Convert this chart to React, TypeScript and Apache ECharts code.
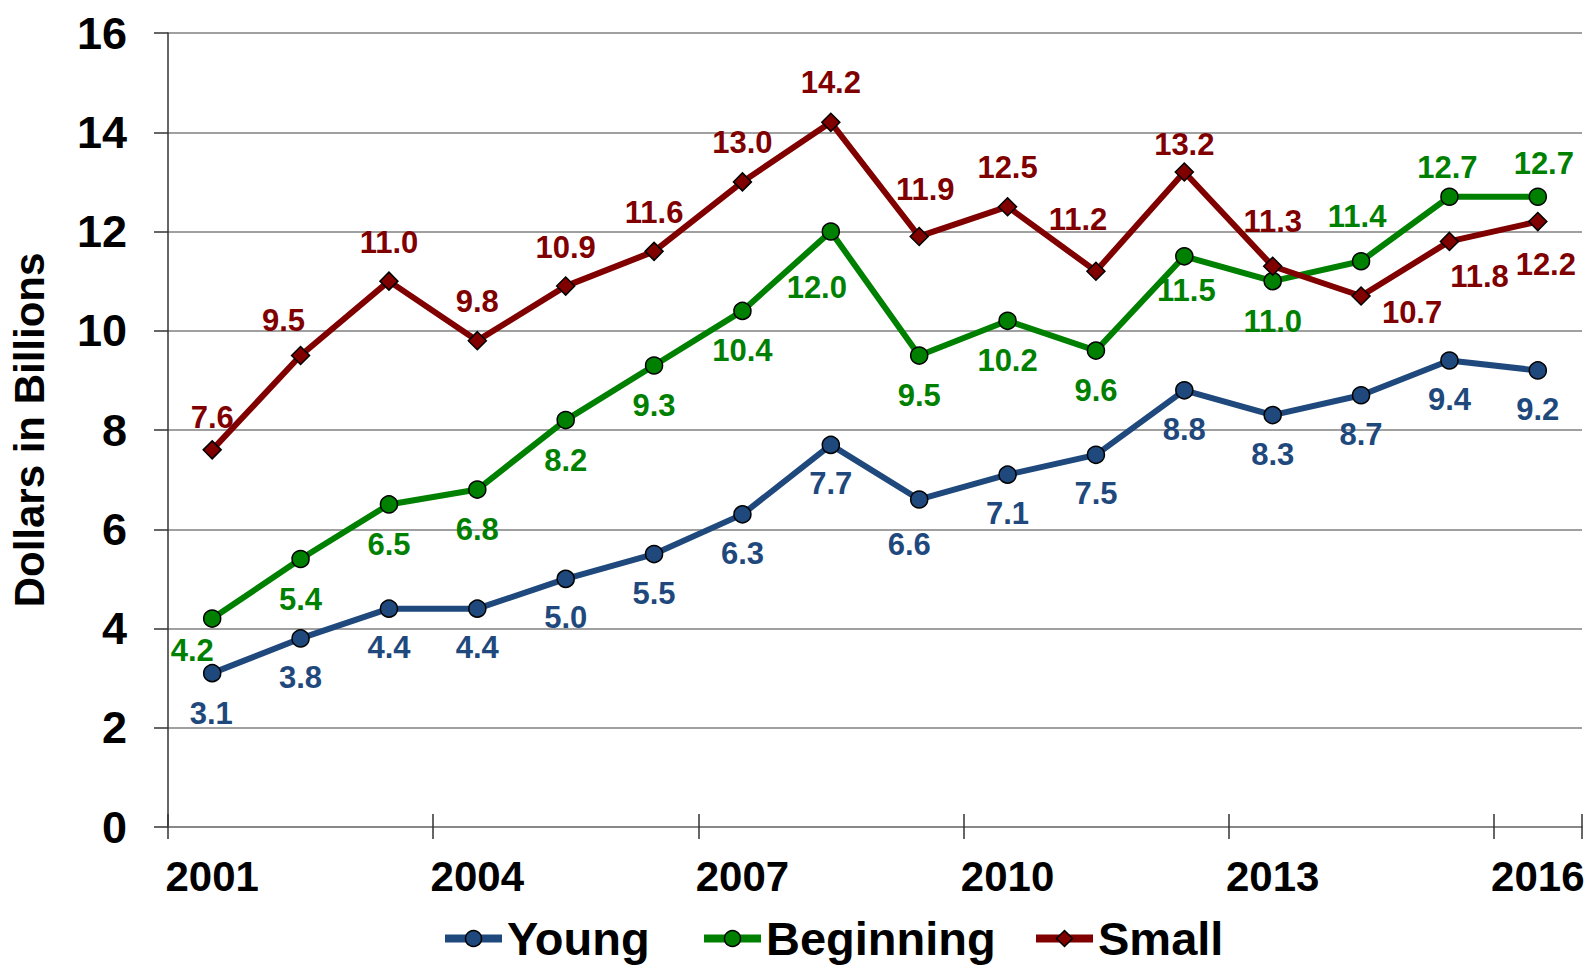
import React, { useEffect, useRef } from "react";
import * as echarts from "echarts";

const years = ["2001","2002","2003","2004","2005","2006","2007","2008","2009","2010","2011","2012","2013","2014","2015","2016"];
const young = [3.1, 3.8, 4.4, 4.4, 5.0, 5.5, 6.3, 7.7, 6.6, 7.1, 7.5, 8.8, 8.3, 8.7, 9.4, 9.2];
const beginning = [4.2, 5.4, 6.5, 6.8, 8.2, 9.3, 10.4, 12.0, 9.5, 10.2, 9.6, 11.5, 11.0, 11.4, 12.7, 12.7];
const small = [7.6, 9.5, 11.0, 9.8, 10.9, 11.6, 13.0, 14.2, 11.9, 12.5, 11.2, 13.2, 11.3, 10.7, 11.8, 12.2];
const yTicks = [0, 2, 4, 6, 8, 10, 12, 14, 16];
const seriesNames = ["Young", "Beginning", "Small"];

const COLORS = { young: "#1F497D", beginning: "#008000", small: "#800000" };
const FONT = "'Liberation Sans', Arial, sans-serif";

// label placement (pixel offsets from the marker centre)
const defaultOffset: Record<string, number[]> = { young: [0, 39], beginning: [0, 40], small: [0, -39] };
const offsetExceptions: Record<string, Record<number, number[]>> = {
  young: { 0: [-1, 40], 8: [-10, 45] },
  beginning: { 0: [-20, 32], 7: [-14, 56], 11: [2, 34], 13: [-4, -45], 14: [-2, -29], 15: [6, -33] },
  small: { 0: [0, -32], 1: [-17, -35], 7: [0, -40], 8: [6, -47], 10: [-18, -52], 11: [0, -27], 12: [0, -45], 13: [51, 16], 14: [30, 35], 15: [8, 43] },
};
// legend item left edges
const legendLefts = [436, 695, 1027];

function makeSeries(name: string, key: string, values: number[], symbol: string, symbolSize: number) {
  const color = (COLORS as any)[key];
  return {
    name,
    type: "line",
    data: values.map((v, i) => ({
      value: v,
      label: { offset: (offsetExceptions[key] && offsetExceptions[key][i]) || defaultOffset[key] },
    })),
    symbol,
    symbolSize,
    lineStyle: { color, width: 6 },
    itemStyle: { color, borderColor: "#000", borderWidth: 1.5 },
    label: {
      show: true,
      position: "inside",
      color,
      fontFamily: FONT,
      fontWeight: "bold",
      fontSize: 31,
      formatter: (p: any) => Number(p.value).toFixed(1),
    },
    emphasis: { disabled: true },
  };
}

export default function App() {
  const ref = useRef<HTMLDivElement>(null);
  useEffect(() => {
    if (!ref.current) return;
    const chart = echarts.init(ref.current, undefined, { renderer: "svg" });
    chart.setOption({
      animation: false,
      backgroundColor: "#fff",
      grid: { left: 155, right: 7, top: 33, bottom: 143, containLabel: false },
      legend: seriesNames.map((n, i) => ({
        left: legendLefts[i],
        top: 910,
        itemWidth: 57,
        itemHeight: 20,
        lineStyle: { width: 8 },
        itemStyle: { borderColor: "#000", borderWidth: 1.5 },
        textStyle: { fontFamily: FONT, fontWeight: "bold", fontSize: 47, color: "#000" },
        data: [n],
      })),
      xAxis: [
        {
          type: "category",
          data: years,
          boundaryGap: true,
          axisLine: { show: true, lineStyle: { color: "#808080", width: 1.5 } },
          axisTick: { show: true, interval: 2, length: 12, lineStyle: { color: "#333", width: 1.5 } },
          axisLabel: {
            interval: 2,
            margin: 28,
            fontFamily: FONT,
            fontWeight: "bold",
            fontSize: 42,
            color: "#000",
          },
          splitLine: { show: false },
        },
        {
          type: "category",
          data: years,
          boundaryGap: true,
          position: "bottom",
          axisLine: { show: false },
          axisTick: { show: true, inside: true, interval: 2, length: 13, lineStyle: { color: "#333", width: 1.5 } },
          axisLabel: { show: false },
          splitLine: { show: false },
        },
      ],
      yAxis: {
        type: "value",
        min: yTicks[0],
        max: yTicks[yTicks.length - 1],
        interval: 2,
        name: "Dollars in Billions",
        nameLocation: "middle",
        nameGap: 118,
        nameTextStyle: { fontFamily: FONT, fontWeight: "bold", fontSize: 42, color: "#000" },
        axisLine: { show: true, lineStyle: { color: "#333", width: 1.5 } },
        axisTick: { show: true, length: 14, lineStyle: { color: "#333", width: 1.5 } },
        axisLabel: {
          margin: 41,
          fontFamily: FONT,
          fontWeight: "bold",
          fontSize: 45,
          color: "#000",
        },
        splitLine: { show: true, lineStyle: { color: "#808080", width: 1.5 } },
      },
      series: [
        makeSeries(seriesNames[0], "young", young, "circle", 17),
        makeSeries(seriesNames[1], "beginning", beginning, "circle", 17),
        makeSeries(seriesNames[2], "small", small, "diamond", 18),
      ],
    });
    return () => chart.dispose();
  }, []);
  return (
    <div
      ref={ref}
      style={{ position: "fixed", left: 0, top: 0, width: 1589, height: 970, background: "#fff" }}
    />
  );
}
